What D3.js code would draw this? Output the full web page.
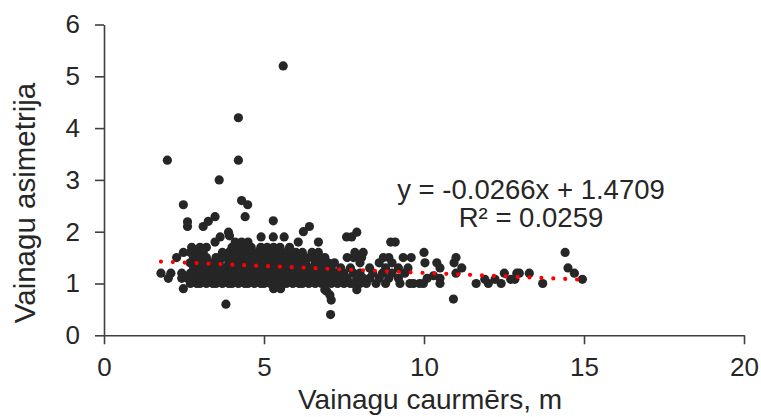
<!DOCTYPE html>
<html>
<head>
<meta charset="utf-8">
<script src="https://cdn.jsdelivr.net/npm/d3@7"></script>
<style>
  html, body { margin: 0; padding: 0; background: #fff; }
  svg { display: block; }
</style>
</head>
<body>
<svg id="chart" width="761" height="417"></svg>
<script>
// ---- data ----
const xTicks = [0, 5, 10, 15, 20];
const yTicks = [0, 1, 2, 3, 4, 5, 6];
const xTitle = "Vainagu caurmērs, m";
const yTitle = "Vainagu asimetrija";
const trendSlope = -0.0266;
const trendIntercept = 1.4709;
const rSquared = 0.0259;

// [crown diameter (m), crown asymmetry]
const observations = [
  // outliers / sparse upper points
  [5.6, 5.2], [4.2, 4.2], [1.98, 3.38], [4.2, 3.38], [3.6, 3.0],
  [2.48, 2.52], [4.3, 2.6], [4.49, 2.52], [4.41, 2.29], [3.47, 2.29],
  [3.26, 2.2], [2.61, 2.19], [5.29, 2.21], [2.61, 2.1], [3.1, 2.1], [6.42, 2.1],
  [3.89, 1.99], [6.23, 2.0], [7.9, 1.99],
  [3.63, 1.9], [3.92, 1.92], [4.91, 1.9], [5.29, 1.9], [5.63, 1.9], [7.58, 1.9], [7.74, 1.9],
  [3.47, 1.8], [4.1, 1.8], [4.3, 1.8], [4.5, 1.8], [6.07, 1.8], [6.7, 1.8], [8.96, 1.8], [9.1, 1.8],
  // row ~1.7
  [2.74, 1.7], [3.0, 1.7], [3.2, 1.7], [4.0, 1.7], [4.2, 1.7], [4.4, 1.7], [4.6, 1.7], [4.9, 1.7],
  [5.1, 1.7], [5.3, 1.7], [5.5, 1.7], [5.8, 1.7],
  // row ~1.6
  [2.48, 1.6], [2.7, 1.6], [2.9, 1.6], [3.1, 1.6], [3.7, 1.6], [3.9, 1.6], [4.1, 1.6], [4.3, 1.6],
  [4.5, 1.6], [4.6, 1.6], [4.8, 1.6], [5.0, 1.6], [5.2, 1.6], [5.3, 1.6], [5.5, 1.6], [5.7, 1.6],
  [5.8, 1.6], [6.0, 1.6], [6.2, 1.6], [6.5, 1.6], [6.7, 1.6], [7.84, 1.6], [8.1, 1.6], [10.0, 1.6],
  [14.41, 1.6],
  // row ~1.5
  [2.27, 1.5], [2.8, 1.5], [3.0, 1.5], [3.2, 1.5], [3.5, 1.5], [3.7, 1.5], [3.9, 1.5], [4.0, 1.5],
  [4.2, 1.5], [4.4, 1.5], [4.5, 1.5], [4.7, 1.5], [4.9, 1.5], [5.1, 1.5], [5.2, 1.5], [5.4, 1.5],
  [5.6, 1.5], [5.7, 1.5], [5.9, 1.5], [6.1, 1.5], [6.3, 1.5], [6.5, 1.5], [6.7, 1.5], [6.9, 1.5],
  [7.6, 1.5], [7.8, 1.5], [8.05, 1.5], [8.73, 1.5], [8.9, 1.5], [9.35, 1.5], [9.6, 1.5], [11.0, 1.5],
  // row ~1.4
  [2.69, 1.4], [2.9, 1.4], [3.1, 1.4], [3.3, 1.4], [3.4, 1.4], [3.6, 1.4], [3.9, 1.4], [4.1, 1.4],
  [4.3, 1.4], [4.4, 1.4], [4.6, 1.4], [4.8, 1.4], [5.0, 1.4], [5.1, 1.4], [5.3, 1.4], [5.5, 1.4],
  [5.6, 1.4], [5.8, 1.4], [6.0, 1.4], [6.2, 1.4], [6.3, 1.4], [6.6, 1.4], [6.8, 1.4], [7.0, 1.4],
  [7.2, 1.4], [8.0, 1.4], [8.6, 1.4], [9.0, 1.4], [10.03, 1.4], [10.4, 1.4], [10.94, 1.4],
  // row ~1.3
  [2.8, 1.3], [3.0, 1.3], [3.2, 1.3], [3.3, 1.3], [3.5, 1.3], [3.7, 1.3], [3.8, 1.3], [4.0, 1.3],
  [4.2, 1.3], [4.3, 1.3], [4.5, 1.3], [4.7, 1.3], [4.8, 1.3], [5.0, 1.3], [5.2, 1.3], [5.3, 1.3],
  [5.5, 1.3], [5.7, 1.3], [5.9, 1.3], [6.0, 1.3], [6.2, 1.3], [6.4, 1.3], [6.5, 1.3], [6.7, 1.3],
  [6.9, 1.3], [7.1, 1.3], [7.4, 1.3], [7.7, 1.3], [8.3, 1.3], [8.8, 1.3], [9.2, 1.3], [9.5, 1.3],
  [10.5, 1.3], [11.18, 1.3], [14.5, 1.3],
  // row ~1.2
  [1.78, 1.2], [2.09, 1.2], [2.43, 1.2],
  [2.7, 1.2], [2.9, 1.2], [3.1, 1.2], [3.2, 1.2], [3.4, 1.2], [3.6, 1.2], [3.7, 1.2], [3.9, 1.2],
  [4.1, 1.2], [4.2, 1.2], [4.4, 1.2], [4.6, 1.2], [4.8, 1.2], [4.9, 1.2], [5.1, 1.2], [5.3, 1.2],
  [5.4, 1.2], [5.6, 1.2], [5.8, 1.2], [5.9, 1.2], [6.1, 1.2], [6.3, 1.2], [6.5, 1.2], [6.6, 1.2],
  [6.8, 1.2], [7.0, 1.2], [7.2, 1.2], [7.3, 1.2], [7.5, 1.2], [7.8, 1.2], [8.0, 1.2], [8.4, 1.2],
  [8.7, 1.2], [9.0, 1.2], [9.4, 1.2], [11.0, 1.2], [12.51, 1.2], [12.9, 1.2], [12.98, 1.2],
  [13.29, 1.2], [14.7, 1.2],
  // row ~1.1
  [2.01, 1.1], [2.43, 1.1],
  [2.6, 1.1], [2.8, 1.1], [3.0, 1.1], [3.1, 1.1], [3.3, 1.1], [3.5, 1.1], [3.6, 1.1], [3.8, 1.1],
  [4.0, 1.1], [4.1, 1.1], [4.3, 1.1], [4.5, 1.1], [4.6, 1.1], [4.8, 1.1], [5.0, 1.1], [5.1, 1.1],
  [5.3, 1.1], [5.5, 1.1], [5.6, 1.1], [5.8, 1.1], [6.0, 1.1], [6.2, 1.1], [6.3, 1.1], [6.5, 1.1],
  [6.7, 1.1], [6.9, 1.1], [7.0, 1.1], [7.2, 1.1], [7.4, 1.1], [7.6, 1.1], [7.9, 1.1], [8.1, 1.1],
  [8.3, 1.1], [8.6, 1.1], [8.9, 1.1], [9.2, 1.1], [10.1, 1.1], [10.3, 1.15], [10.5, 1.1],
  [11.9, 1.08], [12.22, 1.08], [12.71, 1.08], [12.84, 1.08], [14.95, 1.08],
  // row ~1.0
  [2.7, 1.0], [2.9, 1.0], [3.0, 1.0], [3.2, 1.0], [3.4, 1.0], [3.5, 1.0], [3.7, 1.0], [3.9, 1.0],
  [4.0, 1.0], [4.2, 1.0], [4.4, 1.0], [4.5, 1.0], [4.7, 1.0], [4.9, 1.0], [5.0, 1.0], [5.2, 1.0],
  [5.4, 1.0], [5.6, 1.0], [5.7, 1.0], [5.9, 1.0], [6.1, 1.0], [6.2, 1.0], [6.4, 1.0], [6.6, 1.0],
  [6.8, 1.0], [6.9, 1.0], [7.1, 1.0], [7.3, 1.0], [7.5, 1.0], [7.7, 1.0], [7.8, 1.0], [8.0, 1.0],
  [8.2, 1.0], [8.5, 1.0], [8.8, 1.0], [9.25, 1.0], [9.56, 1.0], [9.67, 1.0], [9.86, 1.0],
  [9.98, 1.0], [10.5, 1.0], [11.63, 1.0], [12.01, 1.0], [12.41, 1.0], [13.71, 1.0],
  // below 1
  [2.48, 0.9], [5.3, 0.9], [5.52, 0.9], [6.9, 0.88], [6.96, 0.85], [7.06, 0.78], [7.1, 0.68],
  [7.9, 0.88], [3.81, 0.6], [7.08, 0.4], [10.92, 0.7]
];

// ---- layout ----
const svg = d3.select("#chart");
const font = "'Liberation Sans', Arial, sans-serif";
const textColor = "#262626";
const axisColor = "#404040";

const x = d3.scaleLinear().domain([0, 20]).range([104, 744]);
const y = d3.scaleLinear().domain([0, 6]).range([335.3, 24.5]);

// axes
const xAxis = svg.append("g")
  .attr("transform", `translate(0,${y(0)})`)
  .call(d3.axisBottom(x).tickValues(xTicks).tickFormat(d3.format("d"))
    .tickSize(9).tickSizeOuter(0).tickPadding(13.5));
const yAxis = svg.append("g")
  .attr("transform", `translate(${x(0)},0)`)
  .call(d3.axisLeft(y).tickValues(yTicks).tickFormat(d3.format("d"))
    .tickSize(9).tickSizeOuter(0).tickPadding(15));

[xAxis, yAxis].forEach(g => {
  g.select(".domain").attr("stroke", axisColor).attr("stroke-width", 1.6);
  g.selectAll(".tick line").attr("stroke", axisColor).attr("stroke-width", 1.6);
  g.selectAll(".tick text")
    .attr("fill", textColor)
    .style("font-family", font)
    .style("font-size", "26px");
});

// points
svg.append("g")
  .selectAll("circle")
  .data(observations)
  .join("circle")
  .attr("cx", d => x(d[0]))
  .attr("cy", d => y(d[1]))
  .attr("r", 4.6)
  .attr("fill", "#262626");

// trend line (drawn on top of the points)
const xMin = d3.min(observations, d => d[0]);
const xMax = d3.max(observations, d => d[0]);
const trendData = [xMin, xMax].map(v => [v, trendIntercept + trendSlope * v]);
svg.append("path")
  .datum(trendData)
  .attr("d", d3.line().x(d => x(d[0])).y(d => y(d[1])))
  .attr("fill", "none")
  .attr("stroke", "#ff0000")
  .attr("stroke-width", 4.2)
  .attr("stroke-linecap", "round")
  .attr("stroke-dasharray", "0 11.9");

// axis titles
svg.append("text")
  .attr("x", 430).attr("y", 409)
  .attr("text-anchor", "middle")
  .attr("fill", textColor)
  .style("font-family", font).style("font-size", "28px")
  .text(xTitle);

svg.append("text")
  .attr("transform", "translate(35,203) rotate(-90)")
  .attr("text-anchor", "middle")
  .attr("fill", textColor)
  .style("font-family", font).style("font-size", "29.5px")
  .text(yTitle);

// equation
const eqSign = trendIntercept >= 0 ? "+" : "-";
svg.append("text")
  .attr("x", 531).attr("y", 199)
  .attr("text-anchor", "middle")
  .attr("fill", textColor)
  .style("font-family", font).style("font-size", "27.5px")
  .text(`y = ${trendSlope.toFixed(4)}x ${eqSign} ${Math.abs(trendIntercept).toFixed(4)}`);
svg.append("text")
  .attr("x", 531).attr("y", 227)
  .attr("text-anchor", "middle")
  .attr("fill", textColor)
  .style("font-family", font).style("font-size", "27.5px")
  .text(`R² = ${rSquared.toFixed(4)}`);
</script>
</body>
</html>
